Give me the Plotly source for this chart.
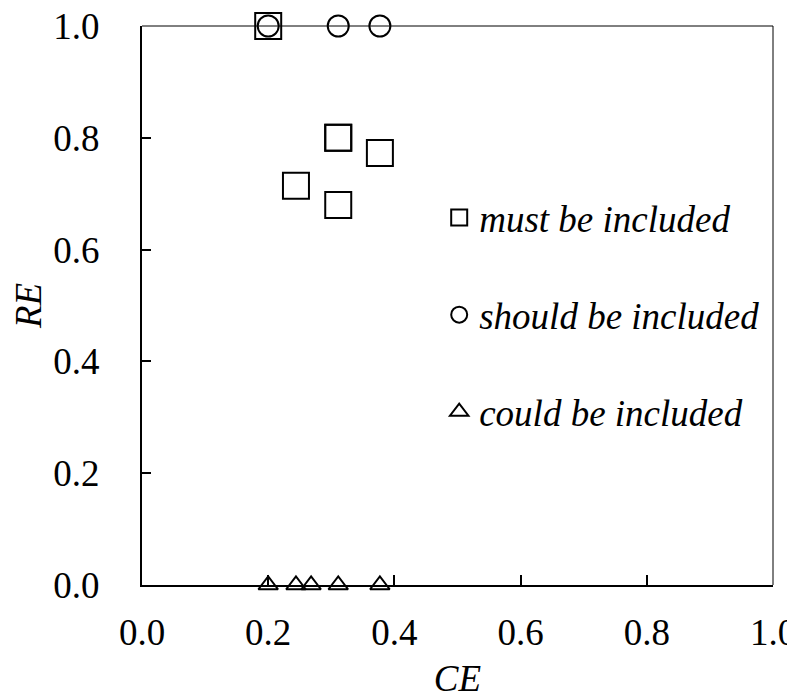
import plotly.graph_objects as go

must_ce = [0.200, 0.311, 0.311, 0.377, 0.244, 0.311]
must_re = [1.000, 0.800, 0.800, 0.773, 0.714, 0.680]

should_ce = [0.200, 0.311, 0.377]
should_re = [1.000, 1.000, 1.000]

could_ce = [0.200, 0.244, 0.268, 0.311, 0.377]
could_re = [0.0, 0.0, 0.0, 0.0, 0.0]

tick_vals = [0.0, 0.2, 0.4, 0.6, 0.8, 1.0]
tick_text = ["0.0", "0.2", "0.4", "0.6", "0.8", "1.0"]

FONT = "Liberation Serif"
FS = 37

fig = go.Figure()
fig.add_trace(go.Scatter(
    x=must_ce, y=must_re, mode="markers", name="<i>must be included</i>",
    legendgroup="a", cliponaxis=False,
    marker=dict(symbol="square-open", size=26, color="black", line=dict(width=2, color="black"))))
fig.add_trace(go.Scatter(
    x=should_ce, y=should_re, mode="markers", name="<i>should be included</i>",
    legendgroup="b", cliponaxis=False,
    marker=dict(symbol="circle-open", size=21, color="black", line=dict(width=2, color="black"))))
fig.add_trace(go.Scatter(
    x=could_ce, y=could_re, mode="markers", name="<i>could be included</i>",
    legendgroup="c", cliponaxis=False,
    marker=dict(symbol="triangle-up-open", size=17, color="black", line=dict(width=2, color="black"))))

# page body has an 8px margin, so the figure is sized to fill the rest of the window
fig.update_layout(
    width=787, height=691,
    margin=dict(l=134, r=22, t=18, b=114, autoexpand=False),
    paper_bgcolor="white", plot_bgcolor="white",
    font=dict(family=FONT, size=FS, color="black"),
    showlegend=True,
    legend=dict(x=0.471, y=0.712, xanchor="left", yanchor="top",
                bgcolor="rgba(0,0,0,0)", tracegroupgap=46,
                font=dict(family=FONT, size=FS, color="black")),
    shapes=[
        dict(type="line", xref="paper", yref="paper", x0=0, x1=1, y0=1, y1=1,
             line=dict(color="black", width=1)),
        dict(type="line", xref="paper", yref="paper", x0=1, x1=1, y0=0, y1=1,
             line=dict(color="black", width=1)),
    ],
)
fig.update_xaxes(
    range=[0, 1], tickvals=tick_vals, ticktext=tick_text,
    ticks="inside", ticklen=10, tickwidth=1.5, tickcolor="black",
    showline=True, linewidth=2, linecolor="black", mirror=False,
    showgrid=False, zeroline=False, automargin=False,
    ticklabelstandoff=14, ticklabeloverflow="allow",
    title=dict(text="<i>CE</i>", font=dict(family=FONT, size=FS), standoff=14),
    tickfont=dict(family=FONT, size=FS),
)
fig.update_yaxes(
    range=[0, 1], tickvals=tick_vals, ticktext=tick_text,
    ticks="inside", ticklen=9, tickwidth=1.5, tickcolor="black",
    showline=True, linewidth=2, linecolor="black", mirror=False,
    showgrid=False, zeroline=False, automargin=False,
    ticklabelstandoff=33, ticklabeloverflow="allow",
    title=dict(text="<i>RE</i>", font=dict(family=FONT, size=FS), standoff=12),
    tickfont=dict(family=FONT, size=FS),
)

fig.write_html("out.html")
